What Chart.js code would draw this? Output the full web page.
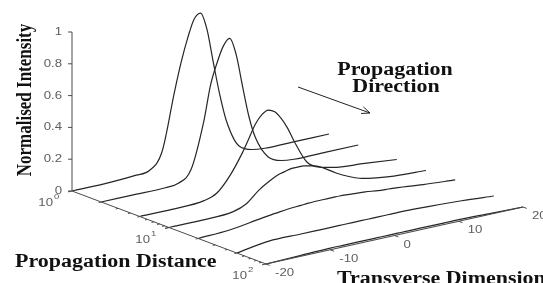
<!DOCTYPE html>
<html>
<head>
<meta charset="utf-8">
<script src="https://cdn.jsdelivr.net/npm/chart.js@4.4.1/dist/chart.umd.min.js"></script>
<style>
  html, body { margin: 0; padding: 0; background: #fff; }
  #wrap { width: 543px; height: 283px; position: relative; }
</style>
</head>
<body>
<div id="wrap"><canvas id="waterfall"></canvas></div>
<script>
// transverse samples and one intensity profile per propagation distance
const transverse = [-20, -15, -10, -8, -6, -4, -3, -2, -1, 0, 1, 2, 3, 4, 6, 8, 10, 15, 20];
const distances = [1, 2, 5, 10, 20, 50, 100];
const profileD1 = [0, 0, 0.01, 0.02, 0.12, 0.49, 0.66, 0.80, 0.91, 0.94, 0.83, 0.61, 0.40, 0.23, 0.05, 0.01, 0, 0, 0];
const profileD2 = [0, 0, 0, 0.01, 0.08, 0.37, 0.58, 0.71, 0.81, 0.85, 0.74, 0.53, 0.33, 0.19, 0.05, 0.01, 0, 0, 0];
const profileD5 = [0, 0, 0.01, 0.04, 0.13, 0.26, 0.34, 0.42, 0.47, 0.49, 0.47, 0.42, 0.35, 0.26, 0.11, 0.06, 0.04, 0.02, 0];
const profileD10 = [0, 0, 0.01, 0.04, 0.11, 0.16, 0.18, 0.19, 0.2, 0.2, 0.2, 0.19, 0.18, 0.16, 0.11, 0.07, 0.04, 0.01, 0];
const profileD20 = [0, 0.01, 0.04, 0.05, 0.06, 0.065, 0.068, 0.07, 0.07, 0.07, 0.07, 0.07, 0.068, 0.065, 0.06, 0.05, 0.045, 0.025, 0.01];
const profileD50 = [0, 0.03, 0.03, 0.03, 0.03, 0.03, 0.03, 0.03, 0.03, 0.03, 0.03, 0.03, 0.03, 0.03, 0.03, 0.028, 0.025, 0.015, 0];
const profileD100 = [0, 0.005, 0.01, 0.01, 0.01, 0.01, 0.01, 0.01, 0.01, 0.01, 0.01, 0.01, 0.01, 0.01, 0.01, 0.01, 0.01, 0.005, 0];
const profiles = [profileD1, profileD2, profileD5, profileD10, profileD20, profileD50, profileD100];

const intensityTicks = [0, 0.2, 0.4, 0.6, 0.8, 1];
const intensityLabels = ['0', '0.2', '0.4', '0.6', '0.8', '1'];
const transverseTicks = [-20, -10, 0, 10, 20];
const distanceTicks = [1, 10, 100];
const distanceExponents = ['0', '1', '2'];

// fixed 3D view: where the axes sit on the page
const VIEW = {
    ox: 72, oy: 191,          // t=-20, d=1, I=0
    dx: 97, dy: 36.5,         // one decade of distance
    tx: 6.425, ty: -1.425,    // one unit of transverse
    iz: 159                   // one unit of intensity
};

function project(t, d, z) {
    const u = Math.log10(d);
    return {
        x: VIEW.ox + u * VIEW.dx + (t + 20) * VIEW.tx,
        y: VIEW.oy + u * VIEW.dy - (t + 20) * VIEW.ty * -1 - z * VIEW.iz
    };
}

function segment(a, b, color, width) {
    return {
        data: [a, b],
        showLine: true,
        borderColor: color,
        borderWidth: width,
        pointRadius: 0,
        tension: 0
    };
}

const axisColor = '#4a4a4a';
const datasets = [];

// axis lines
datasets.push(segment(project(-20, 1, 0), project(-20, 1, 1), axisColor, 1));
datasets.push(segment(project(-20, 1, 0), project(-20, 100, 0), axisColor, 1));
datasets.push(segment(project(-20, 100, 0), project(20, 100, 0), axisColor, 1.2));

// intensity ticks point left
intensityTicks.forEach((z) => {
    const p = project(-20, 1, z);
    datasets.push(segment(p, { x: p.x - 4, y: p.y }, axisColor, 1));
});

// distance ticks (log, with minor ones)
[1, 10].forEach((dec) => {
    for (let k = 1; k <= 10; k++) {
        const p = project(-20, dec * k, 0);
        const len = (k === 1 || k === 10) ? 4 : 2.5;
        datasets.push(segment(p, { x: p.x - len, y: p.y + len * 0.22 }, axisColor, 1));
    }
});

// transverse ticks point towards the viewer
transverseTicks.forEach((t) => {
    const p = project(t, 100, 0);
    datasets.push(segment(p, { x: p.x + 3.7, y: p.y + 1.4 }, axisColor, 1));
});

// one curve per distance
distances.forEach((d, i) => {
    datasets.push({
        data: transverse.map((t, j) => project(t, d, profiles[i][j])),
        showLine: true,
        borderColor: '#262626',
        borderWidth: 1.2,
        pointRadius: 0,
        cubicInterpolationMode: 'monotone'
    });
});

function drawText(ctx, str, x, y, font, color, align, baseline, sx) {
    ctx.save();
    ctx.translate(x, y);
    ctx.scale(sx, 1);
    ctx.font = font;
    ctx.fillStyle = color;
    ctx.textAlign = align;
    ctx.textBaseline = baseline;
    ctx.fillText(str, 0, 0);
    ctx.restore();
}

const labelsPlugin = {
    id: 'waterfallLabels',
    afterDatasetsDraw(chart) {
        const ctx = chart.ctx;
        const sx = chart.scales.x;
        const sy = chart.scales.y;
        const px = (p) => ({ x: sx.getPixelForValue(p.x), y: sy.getPixelForValue(p.y) });
        const tickFont = '11px "Liberation Sans", Arial, sans-serif';
        const tickColor = '#5e5e5e';
        const serif = 'bold 18px "Liberation Serif", "Times New Roman", serif';

        intensityTicks.forEach((z, i) => {
            const p = px(project(-20, 1, z));
            drawText(ctx, intensityLabels[i], p.x - 10, p.y, tickFont, tickColor, 'right', 'middle', 1.2);
        });

        distanceTicks.forEach((d, i) => {
            const p = px(project(-20, d, 0));
            drawText(ctx, '10', p.x - 19, p.y + 12, tickFont, tickColor, 'right', 'middle', 1.2);
            drawText(ctx, distanceExponents[i], p.x - 18, p.y + 6, '8px "Liberation Sans", Arial, sans-serif', tickColor, 'left', 'middle', 1.2);
        });

        transverseTicks.forEach((t) => {
            const p = px(project(t, 100, 0));
            drawText(ctx, String(t), p.x + 9, p.y + 9, tickFont, tickColor, 'left', 'middle', 1.2);
        });

        // axis titles
        ctx.save();
        ctx.translate(31, 100);
        ctx.rotate(-Math.PI / 2);
        ctx.scale(1, 1.2);
        ctx.font = 'bold 17px "Liberation Serif", "Times New Roman", serif';
        ctx.fillStyle = '#111';
        ctx.textAlign = 'center';
        ctx.textBaseline = 'alphabetic';
        ctx.fillText('Normalised Intensity', 0, 0);
        ctx.restore();

        drawText(ctx, 'Propagation Distance', 15, 267, serif, '#111', 'left', 'alphabetic', 1.22);
        drawText(ctx, 'Transverse Dimension', 337, 284, serif, '#111', 'left', 'alphabetic', 1.22);
        drawText(ctx, 'Propagation', 395, 75, serif, '#111', 'center', 'alphabetic', 1.22);
        drawText(ctx, 'Direction', 396, 92, serif, '#111', 'center', 'alphabetic', 1.22);

        // direction arrow
        const s = { x: 298, y: 87 };
        const e = { x: 370, y: 113 };
        const ang = Math.atan2(e.y - s.y, e.x - s.x);
        ctx.save();
        ctx.strokeStyle = '#222';
        ctx.lineWidth = 1;
        ctx.beginPath();
        ctx.moveTo(s.x, s.y);
        ctx.lineTo(e.x, e.y);
        ctx.moveTo(e.x, e.y);
        ctx.lineTo(e.x - 9 * Math.cos(ang - 0.4), e.y - 9 * Math.sin(ang - 0.4));
        ctx.moveTo(e.x, e.y);
        ctx.lineTo(e.x - 9 * Math.cos(ang + 0.4), e.y - 9 * Math.sin(ang + 0.4));
        ctx.stroke();
        ctx.restore();
    }
};

new Chart(document.getElementById('waterfall'), {
    type: 'scatter',
    data: { datasets },
    options: {
        responsive: true,
        maintainAspectRatio: false,
        animation: false,
        layout: { padding: 0 },
        plugins: { legend: { display: false }, tooltip: { enabled: false } },
        scales: {
            x: { type: 'linear', min: 0, max: 543, display: false },
            y: { type: 'linear', min: 0, max: 283, reverse: true, display: false }
        }
    },
    plugins: [labelsPlugin]
});
</script>
</body>
</html>
